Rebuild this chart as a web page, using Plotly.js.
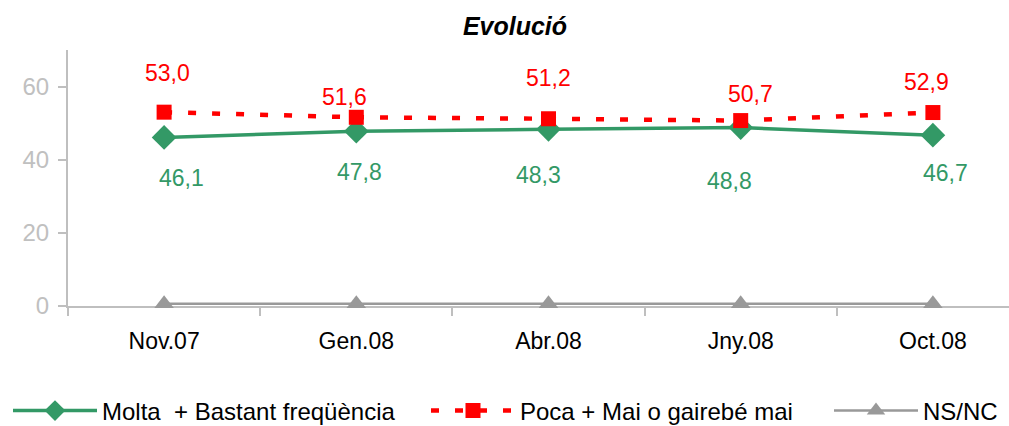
<!DOCTYPE html>
<html>
<head>
<meta charset="utf-8">
<script src="https://cdn.plot.ly/plotly-3.0.1.min.js"></script>
<style>html,body{margin:0;padding:0;background:#fff;}#chart{width:1009px;height:426px;}</style>
</head>
<body>
<div id="chart"></div>
<script>
// ---- data ----
const categories = ["Nov.07", "Gen.08", "Abr.08", "Jny.08", "Oct.08"];
const moltaBastant = [46.1, 47.8, 48.3, 48.8, 46.7];
const pocaMai = [53.0, 51.6, 51.2, 50.7, 52.9];
const nsnc = [0.6, 0.6, 0.6, 0.6, 0.6];
const seriesNames = ["Molta  + Bastant freqüència", "Poca + Mai o gairebé mai", "NS/NC"];
const yTicks = [0, 20, 40, 60];

// ---- label placement (pixel nudges, styling only) ----
const redShiftX = [3, -12, 0, 10, -6];
const redShiftY = [39, 20, 41, 27, 31];
const greenShiftX = [17, 3, -10, -11, 13];
const greenShiftY = [-41, -41, -46, -53, -38];

const FONT = "Liberation Sans, Arial, sans-serif";
const GREEN = "#339966";
const RED = "#ff0000";
const GRAY = "#999999";
const fmt = v => v.toFixed(1).replace('.', ',');

const traces = [
  {
    x: categories, y: moltaBastant, name: seriesNames[0], type: "scatter", mode: "lines+markers",
    line: {color: GREEN, width: 3.5},
    marker: {symbol: "diamond", size: 19, color: GREEN},
    cliponaxis: false, legend: "legend"
  },
  {
    x: categories, y: pocaMai, name: seriesNames[1], type: "scatter", mode: "lines+markers",
    line: {color: RED, width: 4.5, dash: "8px,16px"},
    marker: {symbol: "square", size: 15, color: RED},
    cliponaxis: false, legend: "legend2"
  },
  {
    x: categories, y: nsnc, name: seriesNames[2], type: "scatter", mode: "lines+markers",
    line: {color: GRAY, width: 2.5},
    marker: {symbol: "triangle-up", size: 17, color: GRAY},
    cliponaxis: false, legend: "legend3"
  }
];

const annotations = [];
categories.forEach((c, i) => {
  annotations.push({
    x: c, y: pocaMai[i], xref: "x", yref: "y", text: fmt(pocaMai[i]), showarrow: false,
    xshift: redShiftX[i], yshift: redShiftY[i],
    font: {family: FONT, size: 23, color: RED}
  });
  annotations.push({
    x: c, y: moltaBastant[i], xref: "x", yref: "y", text: fmt(moltaBastant[i]), showarrow: false,
    xshift: greenShiftX[i], yshift: greenShiftY[i],
    font: {family: FONT, size: 23, color: GREEN}
  });
});

function legendAt(px) {
  return {
    orientation: "h",
    xref: "container", x: px/1009, xanchor: "left",
    yref: "container", y: 1 - 411/426, yanchor: "middle",
    itemwidth: 84,
    font: {family: FONT, size: 24, color: "#000"},
    bgcolor: "rgba(0,0,0,0)"
  };
}

const layout = {
  width: 1009, height: 426,
  margin: {l: 68, r: 0, t: 50, b: 120, pad: 0},
  paper_bgcolor: "#ffffff", plot_bgcolor: "#ffffff",
  font: {family: FONT, size: 23, color: "#000"},
  title: {
    text: "<b><i>Evolució</i></b>",
    font: {family: FONT, size: 25, color: "#000"},
    xref: "container", x: 0.5104, xanchor: "center",
    yref: "container", y: 1 - 26/426, yanchor: "middle"
  },
  xaxis: {
    type: "category",
    range: [-0.5, 4.396],
    showgrid: false, zeroline: false,
    showline: true, linecolor: "#bfbfbf", linewidth: 2,
    ticks: "outside", ticklen: 8, tickwidth: 2, tickcolor: "#bfbfbf",
    tickson: "boundaries",
    ticklabelstandoff: 13,
    layer: "below traces",
    tickfont: {family: FONT, size: 23, color: "#000"}
  },
  yaxis: {
    range: [0, 70],
    tickmode: "array", tickvals: yTicks, ticktext: yTicks.map(String),
    showgrid: false, zeroline: false,
    showline: true, linecolor: "#bfbfbf", linewidth: 2,
    ticks: "outside", ticklen: 8, tickwidth: 2, tickcolor: "#bfbfbf",
    ticklabelstandoff: 4,
    layer: "below traces",
    tickfont: {family: FONT, size: 24, color: "#c0c0c0"}
  },
  showlegend: true,
  legend: legendAt(8),
  legend2: legendAt(426),
  legend3: legendAt(829),
  annotations: annotations
};

Plotly.newPlot("chart", traces, layout, {displayModeBar: false, staticPlot: true});
</script>
</body>
</html>
